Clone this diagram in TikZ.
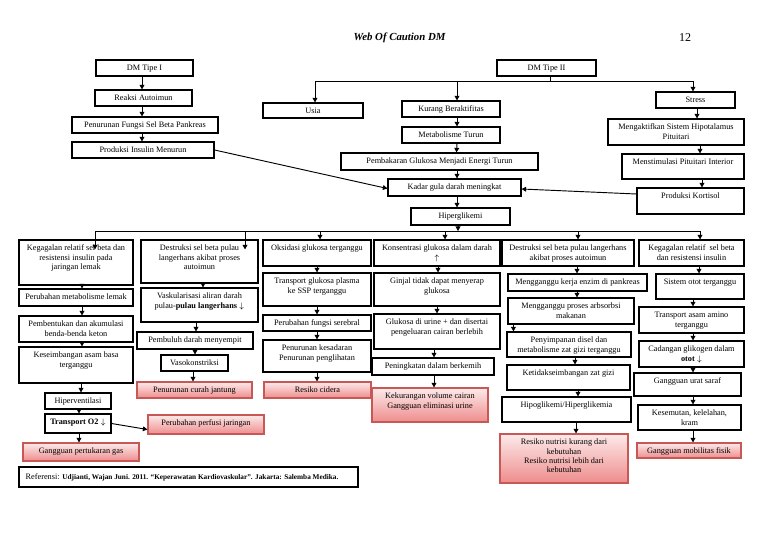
\documentclass[tikz,border=0pt]{standalone}
\usepackage{fontspec}
\setmainfont{Liberation Serif}
\usetikzlibrary{arrows.meta,calc,shadows}
\definecolor{pinkedge}{RGB}{200,88,86}
\definecolor{pinktop}{RGB}{253,234,234}
\definecolor{pinkbot}{RGB}{238,140,140}
\tikzset{
  box/.style={draw, line width=0.85pt, fill=white, inner sep=0pt},
  pinkbox/.style={draw=pinkedge, line width=0.85pt, inner sep=0pt, top color=pinktop, bottom color=pinkbot,
    drop shadow={opacity=0.3, shadow xshift=0.9pt, shadow yshift=-0.9pt}},
  txt/.style={inner sep=0pt, align=center, font=\fontsize{6.2}{7}\selectfont},
  conn/.style={line width=0.7pt},
  arr/.style={line width=0.7pt, -{Triangle[length=3.4pt,width=3.6pt]}},
}
\newcommand\bx[7][box]{%
  \node[#1, minimum width={(#5-#3)*0.75pt}, minimum height={(#6-#4)*0.75pt}] (#2) at ({(#3+#5)/2},{(#4+#6)/2}) {};%
  \node[txt, anchor=north] (#2-t) at ({(#3+#5)/2},{#4+3.8}) {\rule{0pt}{5pt}#7};%
}
\newcommand\varr[4]{\draw[arr] ($(#1.south)+(#3,0)$) -- ($(#2.north)+(#4,0)$);}
\begin{document}
\begin{tikzpicture}[x=0.75pt,y=-0.75pt]
\fill[white] (0,0) rectangle (768,543);
\useasboundingbox (0,0) rectangle (768,543);

\node[inner sep=0pt, font=\fontsize{8.1}{9}\selectfont\bfseries\itshape] (title) at (399.5,38) {Web Of Caution DM};
\node[inner sep=0pt, font=\fontsize{9}{10}\selectfont] (pgnum) at (685,38) {12};

% ---- top left
\bx{t1}{96}{60}{193}{76}{DM Tipe I}
\bx{t2}{95}{90}{192}{106}{Reaksi Autoimun}
\bx{t3}{72}{117}{218}{133}{Penurunan Fungsi Sel Beta Pankreas}
\bx{t4}{72}{142}{214}{158}{Produksi Insulin Menurun}

% ---- top middle
\bx{dm2}{497}{60}{596}{76}{DM Tipe II}
\bx{usia}{263}{103}{363}{118}{Usia}
\bx{kurang}{402}{101}{500}{117}{Kurang Beraktifitas}
\bx{meta}{402}{127}{500}{143}{Metabolisme Turun}
\bx{pemb}{341}{153}{538}{170}{Pembakaran Glukosa Menjadi Energi Turun}
\bx{kadar}{388}{179}{521}{196}{Kadar gula darah meningkat}
\bx{hiper}{411}{208}{510}{225}{Hiperglikemi}

% ---- top right
\bx{stress}{656}{92}{735}{108}{Stress}
\bx{mengak}{608}{119}{744}{145}{Mengaktifkan Sistem Hipotalamus\\Pituitari}
\bx{menst}{622}{154}{744}{179}{Menstimulasi Pituitari Interior}
\bx{kort}{637}{188}{744}{214}{Produksi Kortisol}

% ---- column 1
\bx{k1}{19}{240}{133}{285}{Kegagalan relatif sel beta dan\\resistensi insulin pada\\jaringan lemak}
\bx{pm}{19}{289}{133}{306}{Perubahan metabolisme lemak}
\bx{pb}{19}{316}{133}{342}{Pembentukan dan akumulasi\\benda-benda keton}
\bx{ks}{19}{347}{133}{383}{Keseimbangan asam basa\\terganggu}
\bx{hv}{45}{393}{111}{409}{Hiperventilasi}
\bx{tr}{45}{414}{111}{433}{\textbf{Transport O2} $\downarrow$}
\bx[pinkbox]{gp}{23}{443}{139}{461}{Gangguan pertukaran gas}
\bx[pinkbox]{pp}{148}{415}{264}{434}{Perubahan perfusi jaringan}

% ---- column 2
\bx{d2}{141}{240}{258}{283}{Destruksi sel beta pulau\\langerhans akibat proses\\autoimun}
\bx{vk}{141}{288}{258}{322}{Vaskularisasi aliran darah\\pulau-\textbf{pulau langerhans} $\downarrow$}
\bx{pd}{137}{332}{253}{349}{Pembuluh darah menyempit}
\bx{vs}{161}{355}{228}{371}{Vasokonstriksi}
\bx[pinkbox]{pc}{137}{382}{252}{398}{Penurunan curah jantung}

% ---- column 3
\bx{ox}{263}{240}{371}{266}{Oksidasi glukosa terganggu}
\bx{tg}{263}{273}{371}{306}{Transport glukosa plasma\\ke SSP terganggu}
\bx{pf}{263}{315}{371}{331}{Perubahan fungsi serebral}
\bx{pk}{263}{340}{371}{372}{Penurunan kesadaran\\Penurunan penglihatan}
\bx[pinkbox]{rc}{264}{382}{371}{398}{Resiko cidera}

% ---- column 4
\bx{kon}{374}{240}{500}{266}{Konsentrasi glukosa dalam darah\\$\uparrow$}
\bx{gj}{374}{273}{500}{306}{Ginjal tidak dapat menyerap\\glukosa}
\bx{gu}{374}{314}{500}{349}{Glukosa di urine + dan disertai\\pengeluaran cairan berlebih}
\bx{pn}{372}{358}{494}{375}{Peningkatan dalam berkemih}
\bx[pinkbox]{kv}{372}{388}{488}{422}{Kekurangan volume cairan\\Gangguan eliminasi urine}

% ---- column 5
\bx{d5}{502}{240}{634}{266}{Destruksi sel beta pulau langerhans\\akibat proses autoimun}
\bx{mk}{508}{274}{647}{291}{Mengganggu kerja enzim di pankreas}
\bx{mp}{508}{298}{634}{324}{Mengganggu proses arbsorbsi\\makanan}
\bx{ps}{507}{332}{631}{357}{Penyimpanan disel dan\\metabolisme zat gizi terganggu}
\bx{kz}{507}{365}{630}{390}{Ketidakseimbangan zat gizi}
\bx{hh}{502}{397}{631}{422}{Hipoglikemi/Hiperglikemia}
\bx[pinkbox]{rn}{500}{434}{628}{483}{Resiko nutrisi kurang dari\\kebutuhan\\Resiko nutrisi lebih dari\\kebutuhan}

% ---- column 6
\bx{k6}{639}{240}{744}{266}{Kegagalan relatif ~sel beta\\dan resistensi insulin}
\bx{so}{656}{274}{744}{299}{Sistem otot terganggu}
\bx{ta}{639}{307}{744}{333}{Transport asam amino\\terganggu}
\bx{cg}{639}{341}{744}{367}{Cadangan glikogen dalam\\\textbf{otot} $\downarrow$}
\bx{gu6}{634}{373}{741}{396}{Gangguan urat saraf}
\bx{km}{638}{405}{741}{430}{Kesemutan, kelelahan,\\kram}
\bx[pinkbox]{gm}{637}{443}{741}{458}{Gangguan mobilitas fisik}

% ---- reference
\node[box, minimum width={339*0.75pt}, minimum height={20*0.75pt}] (ref) at (188.5,477) {};
\node[inner sep=0pt, anchor=west, font=\fontsize{6.2}{7}\selectfont] (ref-t) at ($(ref.west)+(7,0)$)
  {Referensi: {\fontsize{5.45}{7}\selectfont\bfseries Udjianti, Wajan Juni. 2011. ``Keperawatan Kardiovaskular''. Jakarta: Salemba Medika.}};

% ---- connectors top
\varr{t1}{t2}{-2.5}{-1.5}
\varr{t2}{t3}{-1.5}{-3}
\varr{t3}{t4}{-3}{-1}

\coordinate (br) at (550,81);
\draw[conn] ($(dm2.south)+(3.5,0)$) -- (br);
\draw[conn] ($(usia.north |- br)+(2,0)$) -- ($(stress.north |- br)+(-2.5,0)$);
\draw[arr] ($(usia.north |- br)+(2,0)$) -- ($(usia.north)+(2,0)$);
\draw[arr] ($(kurang.north |- br)+(6,0)$) -- ($(kurang.north)+(6,0)$);
\draw[arr] ($(stress.north |- br)+(-2.5,0)$) -- ($(stress.north)+(-2.5,0)$);

\varr{kurang}{meta}{6}{6}
\varr{meta}{pemb}{6}{17}
\varr{pemb}{kadar}{17.5}{2.5}
\varr{kadar}{hiper}{2.5}{-3.5}

\varr{stress}{mengak}{1.5}{21}
\varr{mengak}{menst}{24}{17}
\varr{menst}{kort}{19}{11.5}

\draw[arr] (t4.east) -- ($(kadar.west)+(0,1)$);
\draw[arr] ($(kort.west)+(0,-7)$) -- ($(kadar.east)+(0,1.5)$);

% ---- bottom bar
\coordinate (bar) at (458,231);
\draw[arr] ($(hiper.south)+(-2.5,0)$) -- (bar);
\draw[conn] ($(k1.north |- bar)+(19,0)$) -- ($(k6.north |- bar)+(8.5,0)$);
\draw[arr] ($(k1.north |- bar)+(19,0)$) -- ($(k1.north)+(19,10)$);
\draw[arr] ($(d2.north |- bar)+(45.5,0)$) -- ($(d2.north)+(45.5,10)$);
\draw[arr] ($(ox.north |- bar)+(3,0)$) -- ($(ox.north)+(3,0)$);
\draw[arr] ($(kon.north |- bar)+(8,0)$) -- ($(kon.north)+(8,0)$);
\draw[arr] ($(d5.north |- bar)+(10,0)$) -- ($(d5.north)+(10,0)$);
\draw[arr] ($(k6.north |- bar)+(8.5,0)$) -- ($(k6.north)+(8.5,0)$);

% ---- column arrows
\varr{k1}{pm}{6}{6}
\varr{pm}{pb}{6}{6}
\varr{pb}{ks}{6}{6}
\varr{ks}{hv}{5}{3}
\varr{hv}{tr}{1}{1}
\varr{tr}{gp}{1}{-2}
\draw[arr] (tr.east) -- ($(pp.west)+(0,5)$);

\varr{d2}{vk}{3.5}{3.5}
\varr{vk}{pd}{-3.5}{1}
\varr{pd}{vs}{0}{0.5}
\varr{vs}{pc}{-1.5}{-1.5}

\varr{ox}{tg}{0}{0}
\varr{tg}{pf}{0}{0}
\varr{pf}{pk}{0}{0}
\varr{pk}{rc}{0}{-0.5}

\varr{kon}{gj}{1}{1}
\varr{gj}{gu}{0}{0}
\varr{gu}{pn}{-3}{1}
\varr{pn}{kv}{1}{4}

\varr{d5}{mk}{9}{-0.5}
\varr{mk}{mp}{-0.5}{6}
\draw[arr] ($(mp.south west)+(6,0)$) -- ($(ps.north west)+(7,0)$);
\varr{ps}{kz}{6}{6.5}
\varr{kz}{hh}{9.5}{11.5}
\varr{hh}{rn}{9.5}{12}

\varr{k6}{so}{7.5}{-1}
\varr{so}{ta}{-7}{1.5}
\varr{ta}{cg}{1.5}{1.5}
\varr{cg}{gu6}{1.5}{5.5}
\varr{gu6}{km}{5.5}{3.5}
\varr{km}{gm}{3.5}{4}
\end{tikzpicture}
\end{document}
